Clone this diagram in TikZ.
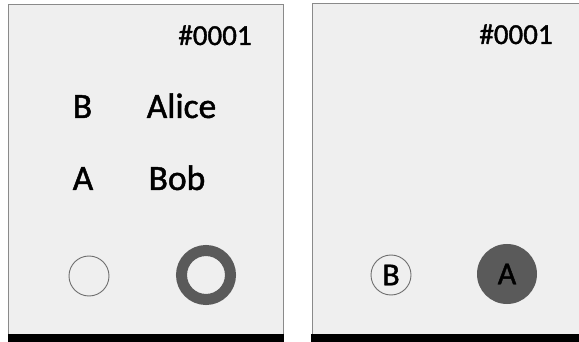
\documentclass[tikz,border=0pt]{standalone}
\usepackage{fontspec}
\setmainfont{Carlito}[FakeBold=1.3]
\definecolor{panelbg}{HTML}{EFEFEF}
\definecolor{panelline}{HTML}{8A8A8A}
\definecolor{darkfill}{HTML}{5A5A5A}
\begin{document}
\begin{tikzpicture}[x=1pt,y=-1pt,
  big/.style={font=\fontsize{35.5}{40}\selectfont, inner sep=0pt, anchor=base},
  tag/.style={font=\fontsize{29}{34}\selectfont, inner sep=0pt, anchor=base},
  thinring/.style={circle, draw=panelline!80!black, line width=0.9pt, minimum size=40pt, inner sep=0pt,
     font=\fontsize{32}{38}\selectfont},
  thickring/.style={circle, draw=darkfill, line width=11pt, minimum size=49pt, inner sep=0pt},
  fullring/.style={circle, fill=darkfill, minimum size=60pt, inner sep=0pt,
     font=\fontsize{32}{38}\selectfont}]
\useasboundingbox (0,0) rectangle (579,342);
% left panel
\fill[panelbg] (8,5) rectangle (283,336);
\draw[panelline, line width=1pt] (8,336) -- (8,5) -- (283,5) -- (283,336);
\fill[black] (8,334) rectangle (284,342);
% right panel
\fill[panelbg] (312,4) rectangle (579,336);
\draw[panelline, line width=1pt] (312,336) -- (312,4) -- (579,4);
\fill[black] (311,334) rectangle (579,342);
% left panel content
\node[tag] (tagL) at (215,45) {\#0001};
\node[big] (lB) at (82.5,118) {B};
\node[big] (lAlice) at (181.5,118) {Alice};
\node[big] (lA) at (83,190) {A};
\node[big] (lBob) at (177,190) {Bob};
\node[thinring] (cL1) at (89,276) {};
\node[thickring] (cL2) at (206,275) {};
% right panel content
\node[tag] (tagR) at (516,44) {\#0001};
\node[thinring] (cR1) at (391,275) {B};
\node[fullring] (cR2) at (507,274) {A};
\end{tikzpicture}
\end{document}
